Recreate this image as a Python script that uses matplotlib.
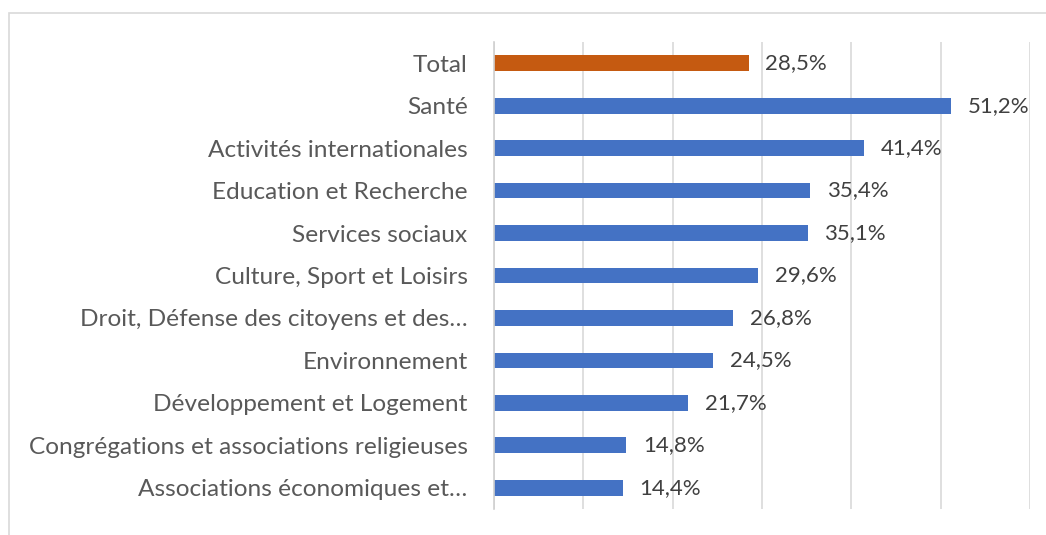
import matplotlib.pyplot as plt
from matplotlib.patches import Rectangle

categories = ['Total', 'Santé', 'Activités internationales', 'Education et Recherche',
              'Services sociaux', 'Culture, Sport et Loisirs',
              'Droit, Défense des citoyens et des…', 'Environnement',
              'Développement et Logement', 'Congrégations et associations religieuses',
              'Associations économiques et…']
values = [28.5, 51.2, 41.4, 35.4, 35.1, 29.6, 26.8, 24.5, 21.7, 14.8, 14.4]
labels = ['28,5%', '51,2%', '41,4%', '35,4%', '35,1%', '29,6%', '26,8%', '24,5%',
          '21,7%', '14,8%', '14,4%']
colors = ['#C55A11'] + ['#4472C4'] * 10

plt.rcParams['font.family'] = ['Lato', 'DejaVu Sans']

W, H = 1046, 535
fig = plt.figure(figsize=(W / 100, H / 100), dpi=100)
fig.patches.append(Rectangle((9 / W, -0.1), 1.2, 1.1 - 13 / H, transform=fig.transFigure,
                             fill=False, edgecolor='#d9d9d9', linewidth=1.2))

ax = fig.add_axes([494 / W, 1 - 509 / H, (1030 - 494) / W, (509 - 42) / H])
y = range(len(categories))
ax.barh(y, values, height=0.37, color=colors, zorder=3)
ax.set_ylim(len(categories) - 0.5, -0.5)
ax.set_xlim(0, 60)
ax.set_xticks(range(0, 61, 10))
ax.set_xticklabels([])
ax.tick_params(axis='x', length=0)
ax.tick_params(axis='y', length=0, pad=19)
ax.grid(axis='x', color='#d9d9d9', linewidth=1.2, zorder=0)
for s in ['top', 'right', 'bottom']:
    ax.spines[s].set_visible(False)
ax.spines['left'].set_color('#d0d0d0')
ax.spines['left'].set_linewidth(1.2)
ax.spines['left'].set_zorder(4)

ax.set_yticks(list(y))
ax.set_yticklabels(categories, fontsize=17.6, color='#595959')

for i, (v, lab) in enumerate(zip(values, labels)):
    ax.annotate(lab, (v, i), xytext=(12, 0), textcoords='offset points',
                va='center', ha='left', fontsize=16, color='#404040')

fig.savefig('out.png', dpi=100)
